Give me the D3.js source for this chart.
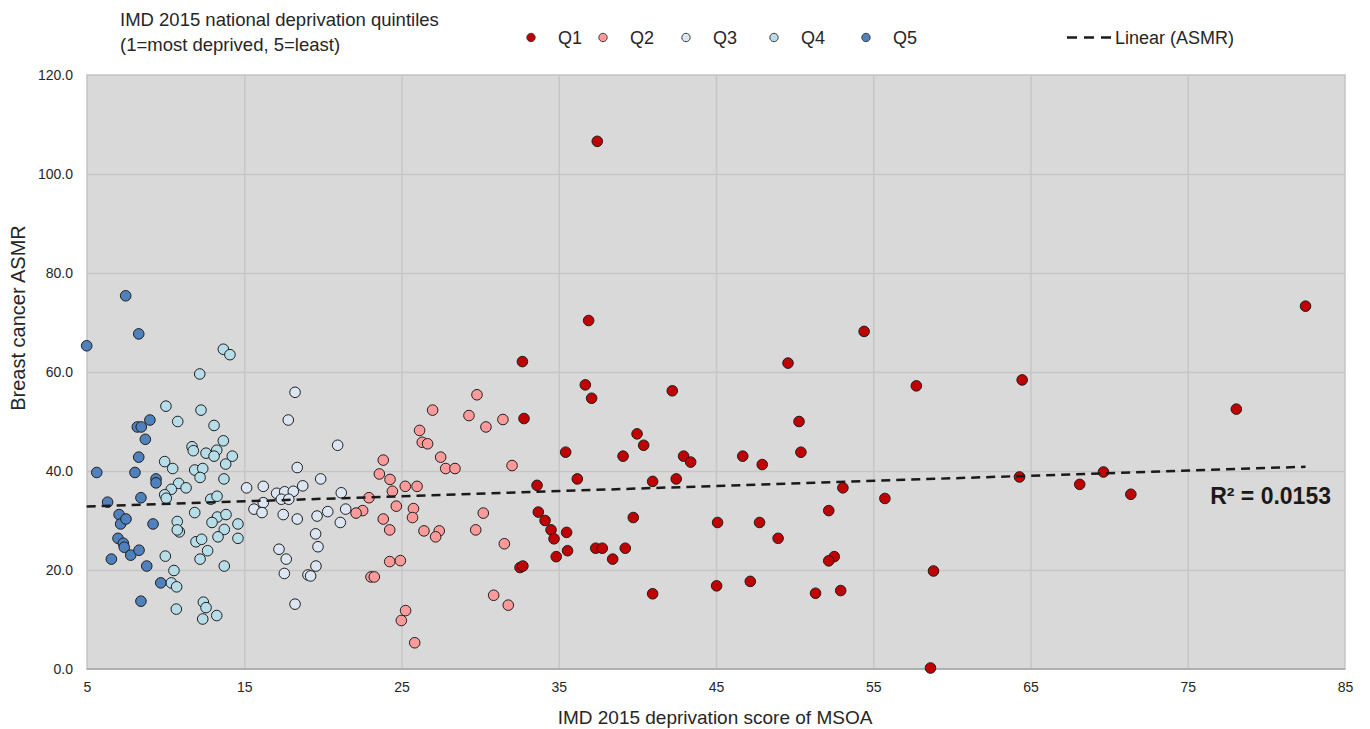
<!DOCTYPE html>
<html>
<head>
<meta charset="utf-8">
<script src="https://cdn.jsdelivr.net/npm/d3@7"></script>
<style>
  html, body { margin: 0; padding: 0; background: #ffffff; }
  svg { display: block; font-family: "Liberation Sans", Arial, sans-serif; }
</style>
</head>
<body>
<svg id="chart" width="1370" height="729"></svg>
<script>
// IMD 2015 deprivation score (x) vs breast cancer ASMR (y), by national quintile
const q1 = [[37.45,106.6],[36.9,70.4],[32.69,62.1],[49.58,61.8],[36.69,57.4],[37.09,54.7],[42.22,56.2],[32.79,50.6],
  [50.28,50.0],[39.98,47.5],[40.4,45.2],[35.44,43.8],[39.09,43.0],[42.94,43.0],[43.39,41.8],[46.7,43.0],[47.94,41.3],
  [50.4,43.8],[36.18,38.4],[40.97,37.9],[42.47,38.4],[33.62,37.1],[33.7,31.7],[34.13,30.0],[34.51,28.1],[34.7,26.3],
  [35.5,27.6],[35.56,23.9],[34.84,22.7],[32.54,20.5],[32.72,20.8],[37.35,24.4],[37.77,24.4],[39.23,24.4],[38.43,22.2],
  [39.74,30.6],[45.1,29.6],[47.77,29.6],[48.95,26.4],[40.97,15.2],[45.04,16.8],[47.18,17.7],[54.42,68.2],[57.74,57.2],
  [64.47,58.4],[78.09,52.5],[53.07,36.6],[55.74,34.45],[52.17,32.0],[52.52,22.7],[52.17,21.85],[51.33,15.3],[52.93,15.85],
  [58.83,19.8],[58.64,0.2],[64.3,38.8],[68.13,37.3],[69.64,39.8],[71.38,35.3],[82.49,73.3]];

const q2 = [[29.8,55.4],[26.98,52.3],[29.29,51.2],[31.45,50.4],[30.37,48.9],[26.15,48.2],[26.32,45.8],[26.66,45.5],
  [27.49,42.8],[27.81,40.5],[28.4,40.5],[32.03,41.1],[23.84,42.2],[23.59,39.4],[24.27,38.3],[24.42,35.9],[25.24,36.9],
  [25.99,36.9],[22.93,34.6],[22.53,32.0],[22.11,31.5],[24.67,32.9],[25.76,32.4],[25.7,30.6],[23.84,30.3],[24.25,28.1],
  [26.43,27.9],[27.4,27.9],[27.17,26.7],[30.2,31.5],[29.72,28.1],[31.54,25.3],[24.25,21.7],[24.93,21.9],[23.06,18.6],
  [23.27,18.6],[30.86,14.9],[31.79,12.9],[25.26,11.8],[24.99,9.8],[25.84,5.3]];

const q3 = [[18.23,55.9],[17.8,50.3],[18.37,40.7],[19.86,38.4],[15.15,36.6],[16.21,36.9],[17.06,35.5],[17.57,35.8],
  [18.12,35.9],[18.72,37.0],[17.36,34.3],[17.83,34.3],[16.21,33.6],[15.62,32.3],[16.13,31.6],[17.48,31.2],[18.37,30.3],
  [19.63,30.9],[20.31,31.8],[19.54,27.3],[19.69,24.7],[17.21,24.2],[17.67,22.2],[17.55,19.3],[19.56,20.8],[19.05,19.0],
  [19.22,18.8],[18.23,13.1],[20.94,45.2],[21.17,35.6],[21.45,32.3],[21.11,29.6]];

const q4 = [[13.67,64.6],[14.09,63.5],[12.17,59.6],[10.02,53.1],[12.25,52.3],[10.77,50.0],[13.08,49.2],[13.67,46.1],
  [11.68,44.9],[11.76,44.1],[12.57,43.6],[13.25,44.2],[13.08,43.0],[14.24,43.0],[9.94,41.9],[13.82,41.4],[10.45,40.5],
  [11.85,40.2],[12.36,40.5],[12.19,38.7],[13.71,38.4],[10.83,37.5],[11.3,36.6],[10.36,36.3],[9.94,35.2],[10.04,34.5],
  [12.87,34.3],[13.27,34.9],[11.85,31.6],[13.29,30.7],[13.84,31.2],[12.95,29.6],[14.6,29.3],[10.74,29.8],[10.87,27.7],
  [10.74,28.1],[13.73,28.2],[13.33,26.7],[14.6,26.4],[11.93,25.7],[12.29,26.2],[12.67,23.9],[9.98,22.8],[12.19,22.2],
  [10.53,19.9],[13.73,20.8],[10.36,17.4],[10.7,16.6],[12.4,13.5],[12.57,12.4],[10.68,12.1],[13.25,10.8],[12.36,10.1]];

const q5 = [[4.98,65.3],[5.62,39.7],[6.31,33.7],[6.55,22.2],[6.97,26.4],[7.04,31.2],[7.14,29.3],[7.31,25.4],[7.37,24.6],
  [7.46,75.4],[7.48,30.3],[7.78,23.0],[8.05,39.7],[8.2,48.9],[8.29,67.7],[8.29,42.8],[8.31,24.0],[8.43,34.6],[8.43,13.7],
  [8.45,48.9],[8.71,46.4],[8.8,20.8],[9.0,50.3],[9.2,29.3],[9.39,38.4],[9.39,37.6],[9.69,17.4]];

const quintileNames = ["Q1", "Q2", "Q3", "Q4", "Q5"];
const quintileColors = ["#c00000", "#ff9a9a", "#dce6f2", "#b7dee8", "#4f81bd"];
const xTicks = [5, 15, 25, 35, 45, 55, 65, 75, 85];
const yTicks = [0, 20, 40, 60, 80, 100, 120];
const rSquaredLabel = "R² = 0.0153";

const svg = d3.select("#chart");
const plot = { left: 87, top: 75, right: 1345, bottom: 669 };

const x = d3.scaleLinear().domain([5, 85]).range([plot.left, plot.right]);
const y = d3.scaleLinear().domain([0, 120]).range([plot.bottom, plot.top]);

// plot background
svg.append("rect")
  .attr("x", plot.left).attr("y", plot.top)
  .attr("width", plot.right - plot.left).attr("height", plot.bottom - plot.top)
  .attr("fill", "#d9d9d9").attr("stroke", "#c4c4c4").attr("stroke-width", 1.5);

// gridlines
svg.append("g")
  .attr("transform", `translate(0,${plot.bottom})`)
  .call(d3.axisBottom(x).tickValues(xTicks.slice(1, -1)).tickSize(-(plot.bottom - plot.top)).tickFormat(""))
  .call(g => g.select(".domain").remove())
  .call(g => g.selectAll("line").attr("stroke", "#c6c6c6").attr("stroke-width", 1.5));
svg.append("g")
  .attr("transform", `translate(${plot.left},0)`)
  .call(d3.axisLeft(y).tickValues(yTicks.slice(1, -1)).tickSize(-(plot.right - plot.left)).tickFormat(""))
  .call(g => g.select(".domain").remove())
  .call(g => g.selectAll("line").attr("stroke", "#c6c6c6").attr("stroke-width", 1.5));

// bottom axis line
svg.append("line")
  .attr("x1", plot.left).attr("x2", plot.right)
  .attr("y1", plot.bottom).attr("y2", plot.bottom)
  .attr("stroke", "#a6a6a6").attr("stroke-width", 1.5);

// tick labels
const xAxis = svg.append("g")
  .attr("transform", `translate(0,${plot.bottom})`)
  .call(d3.axisBottom(x).tickValues(xTicks).tickSize(0).tickPadding(13).tickFormat(d3.format("d")));
xAxis.select(".domain").remove();
xAxis.selectAll("text").attr("font-size", 14).attr("fill", "#262626")
  .attr("font-family", "Liberation Sans, Arial, sans-serif");

const yAxis = svg.append("g")
  .attr("transform", `translate(${plot.left},0)`)
  .call(d3.axisLeft(y).tickValues(yTicks).tickSize(0).tickPadding(14).tickFormat(d3.format(".1f")));
yAxis.select(".domain").remove();
yAxis.selectAll("text").attr("font-size", 14).attr("fill", "#262626")
  .attr("font-family", "Liberation Sans, Arial, sans-serif");

// axis titles
svg.append("text")
  .attr("x", 715).attr("y", 724)
  .attr("text-anchor", "middle").attr("font-size", 19).attr("fill", "#262626")
  .text("IMD 2015 deprivation score of MSOA");
svg.append("text")
  .attr("transform", "translate(25,318) rotate(-90)")
  .attr("text-anchor", "middle").attr("font-size", 20).attr("fill", "#262626")
  .text("Breast cancer ASMR");

// points
const groups = [q1, q2, q3, q4, q5];
groups.forEach((pts, i) => {
  svg.append("g").selectAll("circle")
    .data(pts).join("circle")
    .attr("cx", d => x(d[0])).attr("cy", d => y(d[1]))
    .attr("r", 5.3)
    .attr("fill", quintileColors[i])
    .attr("stroke", "#1f1f1f").attr("stroke-width", 1);
});

// least-squares trend over all areas
const all = groups.flat();
const mx = d3.mean(all, d => d[0]), my = d3.mean(all, d => d[1]);
const slope = d3.sum(all, d => (d[0] - mx) * (d[1] - my)) / d3.sum(all, d => (d[0] - mx) ** 2);
const intercept = my - slope * mx;
const xExtent = d3.extent(all, d => d[0]);
svg.append("path")
  .datum(xExtent.map(v => [v, intercept + slope * v]))
  .attr("d", d3.line().x(d => x(d[0])).y(d => y(d[1])))
  .attr("fill", "none").attr("stroke", "#1a1a1a").attr("stroke-width", 2.5)
  .attr("stroke-dasharray", "9,6");

svg.append("text")
  .attr("x", 1331).attr("y", 504)
  .attr("text-anchor", "end").attr("font-size", 23).attr("font-weight", "bold").attr("fill", "#1a1a1a")
  .text(rSquaredLabel);

// legend
svg.append("text").attr("x", 120).attr("y", 26).attr("font-size", 18.5).attr("fill", "#262626")
  .text("IMD 2015 national deprivation quintiles");
svg.append("text").attr("x", 120).attr("y", 51).attr("font-size", 18.5).attr("fill", "#262626")
  .text("(1=most deprived, 5=least)");

const legendX = [531, 603, 686, 774, 866];
quintileNames.forEach((name, i) => {
  svg.append("circle").attr("cx", legendX[i]).attr("cy", 37.5).attr("r", 4.2)
    .attr("fill", quintileColors[i]).attr("stroke", "#404040").attr("stroke-width", 1);
  svg.append("text").attr("x", legendX[i] + 27).attr("y", 44).attr("font-size", 18).attr("fill", "#262626")
    .text(name);
});
svg.append("line").attr("x1", 1067).attr("x2", 1114).attr("y1", 37.5).attr("y2", 37.5)
  .attr("stroke", "#1a1a1a").attr("stroke-width", 2.5).attr("stroke-dasharray", "10,7");
svg.append("text").attr("x", 1115).attr("y", 44).attr("font-size", 18).attr("fill", "#262626")
  .text("Linear (ASMR)");
</script>
</body>
</html>
